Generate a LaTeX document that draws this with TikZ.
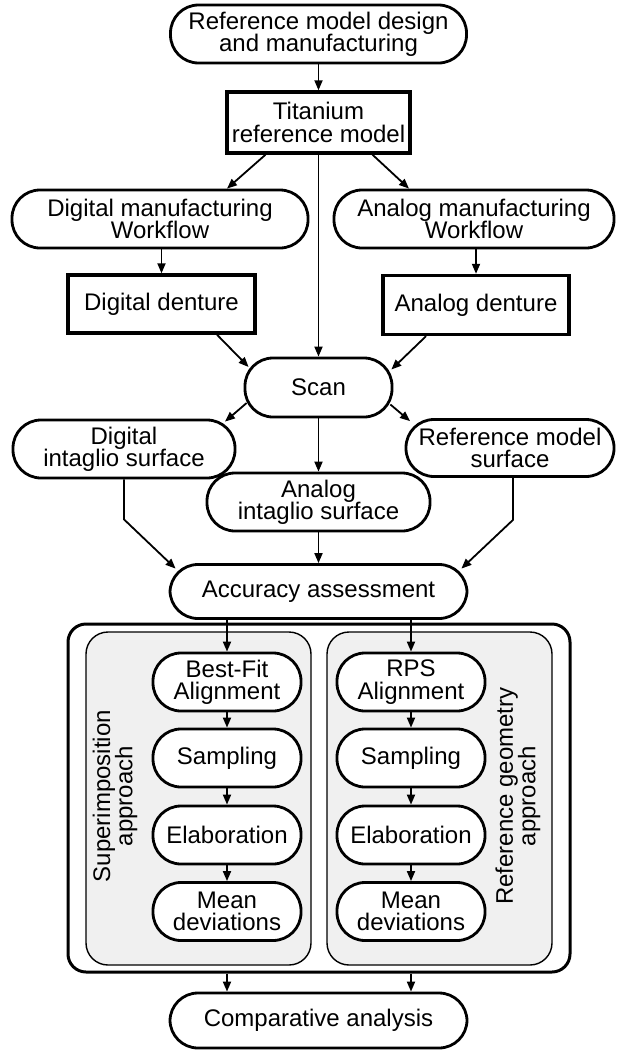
\documentclass[tikz,border=0pt]{standalone}
\usepackage{fontspec}
\setmainfont{Liberation Sans}
\usetikzlibrary{arrows.meta,calc}
\begin{document}
\begin{tikzpicture}[x=0.5pt,y=-0.5pt,
  every node/.style={font=\fontsize{12}{11.2}\selectfont, align=center, inner sep=0pt},
  pill/.style={draw, line width=1.4pt, rounded corners=14pt, fill=white},
  sq/.style={draw, line width=1.7pt, fill=white},
  arr/.style={line width=0.9pt, -{Triangle[length=5pt,width=4pt]}},
  panel/.style={draw, line width=0.7pt, rounded corners=11pt, fill=gray!12,
    minimum width=112.5pt, minimum height=166.5pt},
  colnode/.style={pill, minimum width=74pt, minimum height=29pt},
]
\useasboundingbox (0,0) rectangle (619,1050);

% upper flow
\node[pill, minimum width=148pt, minimum height=29pt] (top) at (318.5,34) {Reference model design\\and manufacturing};
\node[sq, minimum width=91.5pt, minimum height=30.5pt] (tit) at (318.5,122.5) {Titanium\\reference model};
\node[pill, minimum width=148pt, minimum height=29pt] (dw) at (160,219) {Digital manufacturing\\Workflow};
\node[pill, minimum width=140pt, minimum height=29pt] (aw) at (474,219) {Analog manufacturing\\Workflow};
\node[sq, minimum width=93.5pt, minimum height=29pt] (dd) at (161.5,304) {Digital denture};
\node[sq, minimum width=93pt, minimum height=29.5pt] (ad) at (476,305) {Analog denture};
\node[pill, minimum width=73.5pt, minimum height=29.5pt] (scan) at (318.5,387.5) {Scan};
\node[pill, minimum width=111pt, minimum height=29pt] (di) at (124,449) {Digital\\intaglio surface};
\node[pill, minimum width=104pt, minimum height=28.5pt] (rs) at (510,448) {Reference model\\surface};
\node[pill, minimum width=111.5pt, minimum height=29pt] (ai) at (318.5,502) {Analog\\intaglio surface};
\node[pill, minimum width=148.5pt, minimum height=27pt] (acc) at (318.5,591.5) {Accuracy assessment};

% lower frame
\node[draw, line width=1.5pt, rounded corners=9pt, minimum width=251pt, minimum height=174pt] (outer) at (319,798) {};
\node[panel] (pl) at (198.5,798.5) {};
\node[panel] (pr) at (439.5,798.5) {};

\node[rotate=90] (labl) at (115,796) {Superimposition\\approach};
\node[rotate=90] (labr) at (518,796) {Reference geometry\\approach};

\node[colnode] (bf) at (227,682) {Best-Fit\\Alignment};
\node[colnode] (s1) at (227,758) {Sampling};
\node[colnode] (e1) at (227,835) {Elaboration};
\node[colnode] (m1) at (227,911.5) {Mean\\deviations};
\node[colnode] (rps) at (411,682) {RPS\\Alignment};
\node[colnode] (s2) at (411,758) {Sampling};
\node[colnode] (e2) at (411,835) {Elaboration};
\node[colnode] (m2) at (411,911.5) {Mean\\deviations};

\node[pill, minimum width=148.5pt, minimum height=27.5pt] (comp) at (318.5,1020.5) {Comparative analysis};

% connectors
\draw[arr] (top) -- (tit);
\draw[arr] ($(tit.south)+(-53,0)$) -- ($(dw.north)+(67,0)$);
\draw[arr] ($(tit.south)+(54,0)$) -- ($(aw.north)+(-65,0)$);
\draw[arr] (tit) -- (scan);
\draw[arr] (dd.north |- dw.south) -- (dd.north);
\draw[arr] (ad.north |- aw.south) -- (ad.north);
\draw[arr] ($(dd.south)+(55.5,0)$) -- ($(scan.west)+(5,-20.5)$);
\draw[arr] ($(ad.south)+(-50,0)$) -- ($(scan.east)+(-2,-18)$);
\draw[arr] ($(scan.west)+(3,15.5)$) -- ($(di.north)+(101,3)$);
\draw[arr] ($(scan.east)+(-3,17)$) -- ($(rs.north)+(-100,3)$);
\draw[arr] (scan) -- (ai);
\draw[arr] (di.south) -- ++(0,40) -- ($(acc.north west)+(7,5.5)$);
\draw[arr] ($(rs.south)+(3,0)$) -- ++(0,42) -- ($(acc.north east)+(-7,5.5)$);
\draw[arr] (ai) -- (acc);
\draw[arr] (acc.south -| bf.north) -- (bf.north);
\draw[arr] (acc.south -| rps.north) -- (rps.north);
\draw[arr] (bf) -- (s1);
\draw[arr] (s1) -- (e1);
\draw[arr] (e1) -- (m1);
\draw[arr] (rps) -- (s2);
\draw[arr] (s2) -- (e2);
\draw[arr] (e2) -- (m2);
\draw[arr] (outer.south -| m1.south) -- (comp.north -| m1.south);
\draw[arr] (outer.south -| m2.south) -- (comp.north -| m2.south);
\end{tikzpicture}
\end{document}
